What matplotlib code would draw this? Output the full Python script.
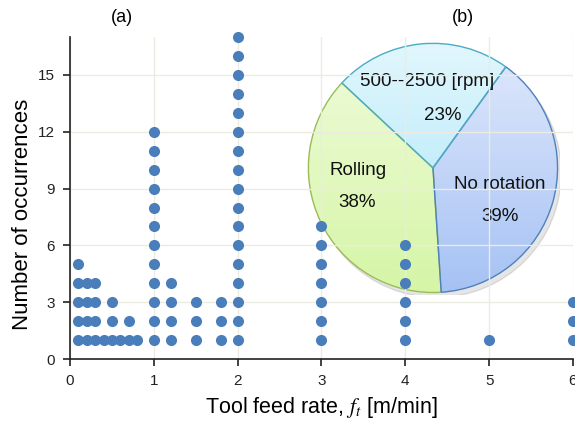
#!/usr/bin/env python3
import numpy as np
import matplotlib
matplotlib.use("Agg")
import matplotlib.pyplot as plt
from matplotlib.colors import LinearSegmentedColormap

# (a) feed rate [m/min] and how many times each value occurs
feed_rates = [0.1, 0.2, 0.3, 0.4, 0.5, 0.6, 0.7, 0.8, 1, 1.2, 1.5, 1.8, 2, 3, 4, 5, 6]
counts = [5, 4, 4, 1, 3, 1, 2, 1, 12, 4, 3, 3, 17, 7, 6, 1, 3]

# (b) tool rotation share
pie_labels = ["Rolling", "No rotation", "500--2500 [rpm]"]
pie_values = [38, 39, 23]

x_ticks = [0, 1, 2, 3, 4, 5, 6]
y_ticks = [0, 3, 6, 9, 12, 15]

plt.rcParams["font.family"] = ["Liberation Sans", "DejaVu Sans"]
plt.rcParams["mathtext.fontset"] = "stix"


def main():
    fig = plt.figure(figsize=(5.75, 4.23), dpi=100)
    fig.patch.set_facecolor("white")

    # one dot per occurrence, stacked 1..n
    xs = np.repeat(feed_rates, counts)
    ys = np.concatenate([np.arange(1, c + 1) for c in counts])

    ax = fig.add_axes([0.1217, 0.151, 0.8748, 0.7615])
    ax.set_zorder(2)
    ax.patch.set_visible(False)
    ax.scatter(xs, ys, s=64, color="#4a7ebb", linewidths=0, clip_on=False, zorder=3)
    ax.set_xlim(0, 6)
    ax.set_ylim(0, 17)
    ax.set_xticks(x_ticks)
    ax.set_yticks(y_ticks)
    ax.grid(True, color="#ebebe2", linewidth=1.0)
    ax.set_axisbelow(True)
    for s in ["top", "right"]:
        ax.spines[s].set_visible(False)
    for s in ["left", "bottom"]:
        ax.spines[s].set_color("#222222")
        ax.spines[s].set_linewidth(1.2)
    ax.tick_params(direction="out", length=5, width=1.2, color="#222222",
                   labelsize=11, labelcolor="#222222", pad=6)
    ax.set_ylabel("Number of occurrences", fontsize=16)
    ax.yaxis.set_label_coords(-0.073, 0.45)
    ax.set_xlabel("Tool feed rate, $f_t$ [m/min]", fontsize=15.5, labelpad=5)

    fig.text(122 / 575, 1 - 18 / 423, "(a)", fontsize=13, ha="center", va="center")
    fig.text(463 / 575, 1 - 18 / 423, "(b)", fontsize=13, ha="center", va="center")

    # pie inset, behind the scatter axes
    axp = fig.add_axes([0.532, 0.300, 0.442, 0.606])
    axp.set_zorder(1)
    axp.patch.set_visible(False)
    # soft shadow
    shadow = plt.Circle((0.03, -0.04), 1.0, color="#000000", alpha=0.10, zorder=0)
    axp.add_patch(shadow)
    wedges, _ = axp.pie(pie_values, startangle=137,
                        colors=["none"] * 3, radius=1.0,
                        wedgeprops=dict(linewidth=1.0))
    edge_cols = ["#9bbb59", "#4f81bd", "#4bacc6"]
    grads = [("#f0fcdc", "#d5f5a5"), ("#e2eafc", "#a4c1f4"), ("#e3f7fd", "#a6e5f8")]
    grad = np.linspace(1, 0, 256)[:, None] * np.ones((1, 2))
    for w, ec, (c1, c2) in zip(wedges, edge_cols, grads):
        w.set_edgecolor(ec)
        w.set_zorder(3)
        cmap = LinearSegmentedColormap.from_list("g", [c2, c1])
        im = axp.imshow(grad, extent=[-1.05, 1.05, -1.05, 1.05], cmap=cmap,
                        origin="upper", aspect="equal", zorder=2,
                        interpolation="bilinear")
        im.set_clip_path(w)
    axp.set_xlim(-1.02, 1.02)
    axp.set_ylim(-1.02, 1.02)
    axp.axis("off")

    tk = dict(fontsize=13.5, ha="center", va="center", color="#111111", zorder=5)
    axp.text(-0.60, -0.02, pie_labels[0], **tk)
    axp.text(-0.61, -0.28, f"{pie_values[0]}%", **tk)
    axp.text(0.54, -0.13, pie_labels[1], **tk)
    axp.text(0.54, -0.39, f"{pie_values[1]}%", **tk)
    axp.text(-0.05, 0.69, pie_labels[2], **tk)
    axp.text(0.08, 0.42, f"{pie_values[2]}%", **tk)

    fig.savefig("out.png", dpi=100)


if __name__ == "__main__":
    main()
